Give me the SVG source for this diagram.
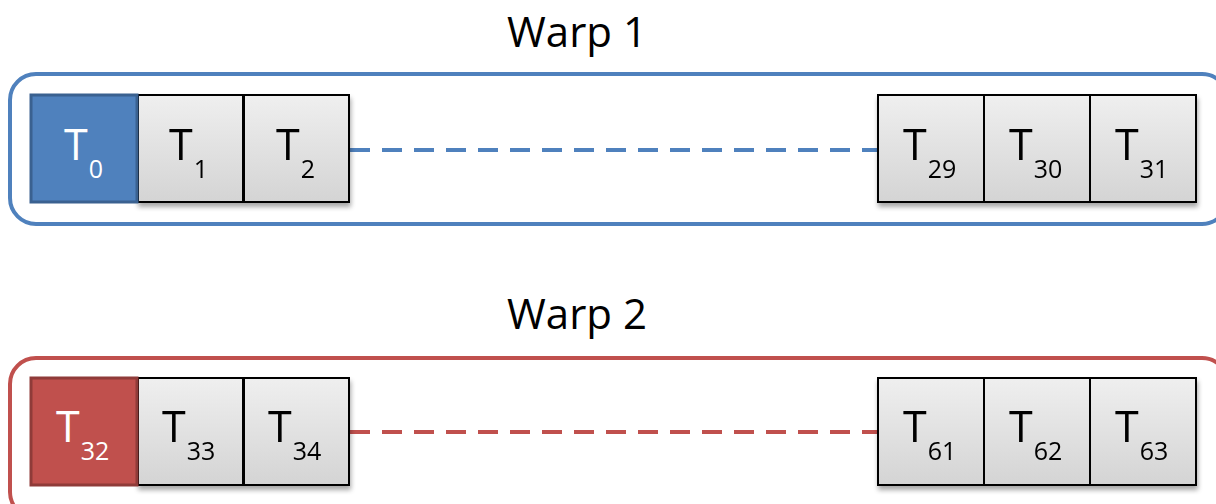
<svg xmlns="http://www.w3.org/2000/svg" width="1216" height="504" viewBox="0 0 1216 504">
<defs>
<linearGradient id="g" x1="0" y1="0" x2="0" y2="1">
<stop offset="0" stop-color="#efefef"/>
<stop offset="1" stop-color="#d4d4d4"/>
</linearGradient>
<filter id="sh" x="-20%" y="-20%" width="140%" height="150%">
<feGaussianBlur in="SourceAlpha" stdDeviation="2.5"/>
<feOffset dx="1" dy="4" result="b"/>
<feComponentTransfer><feFuncA type="linear" slope="0.35"/></feComponentTransfer>
<feMerge><feMergeNode/><feMergeNode in="SourceGraphic"/></feMerge>
</filter>
</defs>
<style>
.title{font-family:"Open Sans","Liberation Sans",sans-serif;font-size:42px;fill:#000;text-anchor:middle}
.t{font-family:"Open Sans","Liberation Sans",sans-serif;font-size:43px;fill:#000}
.s{font-size:25px}
.w{fill:#fff}
.cell{fill:url(#g);stroke:#000;stroke-width:2}
.blue{fill:#4f81bd;stroke:#3a6190;stroke-width:3}
.red{fill:#c0504d;stroke:#8f3b39;stroke-width:3}
</style>
<text class="title" x="577" y="47">Warp 1</text>
<text class="title" x="577" y="329">Warp 2</text>
<g id="warp1">
<rect x="10" y="74" width="1218" height="150" rx="26" fill="none" stroke="#4f81bd" stroke-width="4"/>
</g>
<g id="warp2">
<rect x="10" y="358" width="1218" height="160" rx="26" fill="none" stroke="#c0504d" stroke-width="4"/>
</g>
<g id="connectors">
<line x1="350" y1="150" x2="878" y2="150" stroke="#4f81bd" stroke-width="4" stroke-dasharray="20,12"/>
<line x1="350" y1="432" x2="878" y2="432" stroke="#c0504d" stroke-width="4" stroke-dasharray="20,12"/>
</g>
<g filter="url(#sh)">
<g id="t1"><rect class="cell" x="138" y="95" width="105" height="107"/><text class="t" x="169" y="160">T<tspan class="s" dx="1" dy="18">1</tspan></text></g>
<g id="t2"><rect class="cell" x="244" y="95" width="105" height="107"/><text class="t" x="276" y="160">T<tspan class="s" dx="1" dy="18">2</tspan></text></g>
<g id="t29"><rect class="cell" x="878" y="95" width="106" height="107"/><text class="t" x="903" y="160">T<tspan class="s" dx="1" dy="18">29</tspan></text></g>
<g id="t30"><rect class="cell" x="984" y="95" width="106" height="107"/><text class="t" x="1009" y="160">T<tspan class="s" dx="1" dy="18">30</tspan></text></g>
<g id="t31"><rect class="cell" x="1090" y="95" width="106" height="107"/><text class="t" x="1115" y="160">T<tspan class="s" dx="1" dy="18">31</tspan></text></g>
<g id="t33"><rect class="cell" x="138" y="378" width="105" height="107"/><text class="t" x="162" y="442">T<tspan class="s" dx="1" dy="18">33</tspan></text></g>
<g id="t34"><rect class="cell" x="244" y="378" width="105" height="107"/><text class="t" x="268" y="442">T<tspan class="s" dx="1" dy="18">34</tspan></text></g>
<g id="t61"><rect class="cell" x="878" y="378" width="106" height="107"/><text class="t" x="903" y="442">T<tspan class="s" dx="1" dy="18">61</tspan></text></g>
<g id="t62"><rect class="cell" x="984" y="378" width="106" height="107"/><text class="t" x="1009" y="442">T<tspan class="s" dx="1" dy="18">62</tspan></text></g>
<g id="t63"><rect class="cell" x="1090" y="378" width="106" height="107"/><text class="t" x="1115" y="442">T<tspan class="s" dx="1" dy="18">63</tspan></text></g>
</g>
<g id="t0"><rect class="blue" x="31" y="95" width="106" height="107"/><text class="t w" x="64" y="160">T<tspan class="s" dx="1" dy="18">0</tspan></text></g>
<g id="t32"><rect class="red" x="31" y="378" width="106" height="107"/><text class="t w" x="56" y="442">T<tspan class="s" dx="1" dy="18">32</tspan></text></g>
</svg>
